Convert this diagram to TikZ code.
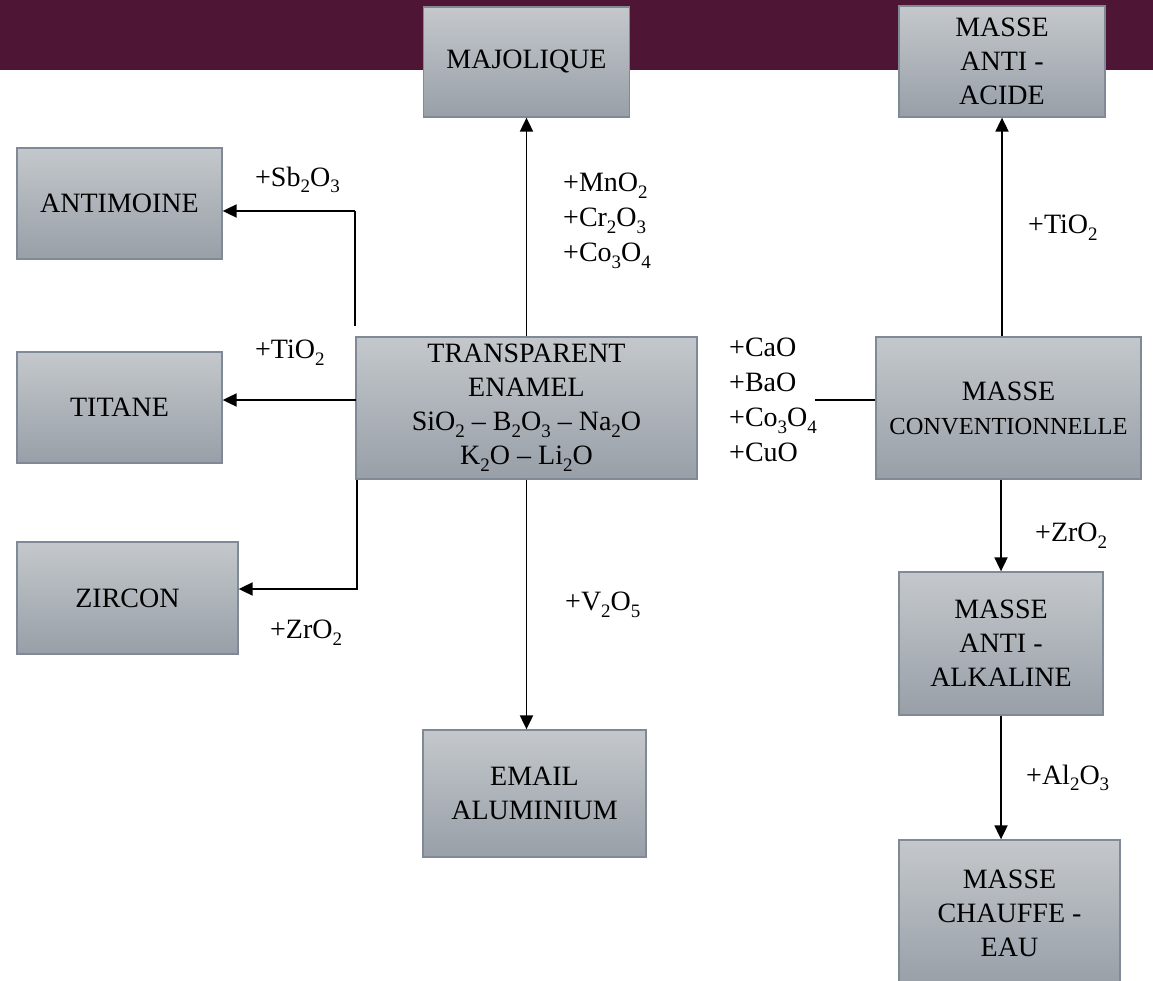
\documentclass[tikz,border=0pt]{standalone}
\usepackage{fontspec}
\setmainfont{Liberation Serif}
\usepackage{tikz}
\usetikzlibrary{calc}
\usetikzlibrary{arrows.meta}
\usetikzlibrary{positioning}
\usepackage{color}
\definecolor{burgundy}{RGB}{78, 21, 52}
\definecolor{steeltop}{RGB}{196, 200, 204}
\definecolor{steelbot}{RGB}{152, 159, 167}
\definecolor{steeledge}{RGB}{128, 138, 150}
\newcommand{\chemsub}[1]{\raisebox{-0.24em}{\fontsize{19}{19}\selectfont #1}}

\begin{document}
\begin{tikzpicture}[x=1pt, y=-1pt,
            glazebox/.style={draw=steeledge, line width=1.3pt, top color=steeltop, bottom color=steelbot,
                             align=center, inner sep=0pt, font=\fontsize{28}{34}\selectfont},
            additive/.style={anchor=west, inner sep=0pt, align=left, font=\fontsize{28}{35}\selectfont},
            feed/.style={line width=1.9pt},
            feedarrow/.style={feed, -{Triangle[length=14pt, width=13pt]}}]
            \useasboundingbox (0, 0) rectangle (1153, 981);
            % Banner
            \fill[burgundy] (0, 0) rectangle (1153, 70);
            % Boxes
            \node[glazebox, minimum width=206pt, minimum height=110pt] (majo)    at ( 526.5,  62.0) {MAJOLIQUE};
            \node[glazebox, minimum width=206pt, minimum height=111pt] (acid)    at (1002.0,  61.5) {MASSE\\ANTI -\\ACIDE};
            \node[glazebox, minimum width=205pt, minimum height=111pt] (anti)    at ( 119.5, 203.5) {ANTIMOINE};
            \node[glazebox, minimum width=205pt, minimum height=111pt] (titane)  at ( 119.5, 407.5) {TITANE};
            \node[glazebox, minimum width=221pt, minimum height=112pt] (zircon)  at ( 127.5, 598.0) {ZIRCON};
            \node[glazebox, minimum width=341pt, minimum height=142pt] (trans)   at ( 526.5, 408.0)
                 {TRANSPARENT\\ENAMEL\\SiO\chemsub{2} – B\chemsub{2}O\chemsub{3} – Na\chemsub{2}O\\K\chemsub{2}O – Li\chemsub{2}O};
            \node[glazebox, minimum width=223pt, minimum height=127pt] (email)   at ( 534.5, 793.5) {EMAIL\\ALUMINIUM};
            \node[glazebox, minimum width=265pt, minimum height=142pt] (conv)    at (1008.5, 408.0)
                 {MASSE\\{\fontsize{24.5}{30}\selectfont CONVENTIONNELLE}};
            \node[glazebox, minimum width=204pt, minimum height=143pt] (alk)     at (1001.0, 643.5) {MASSE\\ANTI -\\ALKALINE};
            \node[glazebox, minimum width=221pt, minimum height=146pt] (chauffe) at (1009.5, 913.0) {MASSE\\CHAUFFE -\\EAU};
            % Junctions
            \coordinate (sbtop) at (355, 211);
            \coordinate (sbbot) at (355, 326);
            \coordinate (tijoin) at (356, 400);
            \coordinate (zrjoin) at (357, 589);
            \coordinate (cajoin) at (815, 400);
            % Left branches
            \draw[feed]                          (sbbot) -- (sbtop);
            \draw[feedarrow]                     (sbtop) -- (sbtop -| anti.east);
            \draw[feedarrow]                     (tijoin) -- (tijoin -| titane.east);
            \draw[feedarrow]                     (trans.south west -| zrjoin) -- (zrjoin) -- (zrjoin -| zircon.east);
            % Centre column
            \draw[feedarrow]                     (trans.north) -- (trans.north |- majo.south);
            \draw[feedarrow]                     (trans.south) -- (trans.south |- email.north);
            % Right column
            \draw[feed]                          (cajoin) -- (cajoin -| conv.west);
            \draw[feedarrow]                     (conv.north -| acid.south) -- (acid.south);
            \draw[feedarrow]                     (conv.south -| alk.north) -- (alk.north);
            \draw[feedarrow]                     (alk.south) -- (alk.south |- chauffe.north);
            % Additives
            \node[additive] (sb)    at ( 255, 180) {+Sb\chemsub{2}O\chemsub{3}};
            \node[additive] (tileft) at ( 255, 353) {+TiO\chemsub{2}};
            \node[additive] (zrleft) at ( 270, 633) {+ZrO\chemsub{2}};
            \node[additive] (mn)    at ( 563, 221) {+MnO\chemsub{2}\\+Cr\chemsub{2}O\chemsub{3}\\+Co\chemsub{3}O\chemsub{4}};
            \node[additive] (vo)    at ( 565, 605) {+V\chemsub{2}O\chemsub{5}};
            \node[additive] (ca)    at ( 729, 400) {+CaO\\+BaO\\+Co\chemsub{3}O\chemsub{4}\\+CuO};
            \node[additive] (tiright) at (1028, 228) {+TiO\chemsub{2}};
            \node[additive] (zrright) at (1035, 536) {+ZrO\chemsub{2}};
            \node[additive] (al)    at (1026, 778) {+Al\chemsub{2}O\chemsub{3}};
        \end{tikzpicture}
\end{document}
